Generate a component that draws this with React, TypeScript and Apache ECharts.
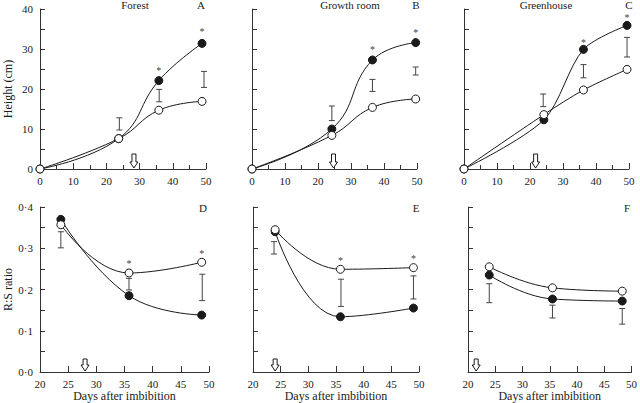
import React, { useEffect, useRef } from "react";
import * as echarts from "echarts";

// ---- Data ----
const panelTitles = ["Forest", "Growth room", "Greenhouse"];
const panelLetters = ["A", "B", "C", "D", "E", "F"];

// Height (cm) panels
const forestDays = [0, 23.7, 35.8, 48.8];
const forestFilled = [0, 7.6, 22.1, 31.4];
const forestOpen = [0, 7.6, 14.7, 16.9];
const forestErr = [[23.9, 9.75, 12.8], [35.9, 16.8, 19.9], [49.4, 20.4, 24.4]];
const forestStars = [[35.8, 24.7], [48.8, 34.3]];

const growthDays = [0, 24.2, 36.5, 49.6];
const growthFilled = [0, 10.0, 27.25, 31.6];
const growthOpen = [0, 8.4, 15.4, 17.5];
const growthErr = [[24.2, 12.1, 15.75], [36.5, 19.4, 22.4], [49.6, 23.5, 25.5]];
const growthStars = [[36.5, 30.0], [49.6, 34.2]];

const greenDays = [0, 24.2, 36.2, 49.4];
const greenFilled = [0, 12.3, 29.9, 35.9];
const greenOpen = [0, 13.6, 19.75, 24.9];
const greenErr = [[24.0, 15.6, 18.75], [36.2, 22.8, 26.1], [49.4, 28.0, 32.9]];
const greenStars = [[36.2, 31.7], [49.4, 38.0]];

// R:S ratio panels
const rsForestDays = [23.7, 35.8, 48.7];
const rsForestFilled = [0.37, 0.185, 0.138];
const rsForestOpen = [0.357, 0.24, 0.266];
const rsForestErr = [[23.7, 0.301, 0.34], [35.8, 0.199, 0.227], [48.8, 0.173, 0.237]];
const rsForestStars = [[35.8, 0.263], [48.7, 0.287]];

const rsGrowthDays = [24.0, 35.8, 49.0];
const rsGrowthFilled = [0.34, 0.134, 0.155];
const rsGrowthOpen = [0.345, 0.249, 0.253];
const rsGrowthErr = [[23.8, 0.286, 0.316], [35.9, 0.159, 0.225], [49.0, 0.177, 0.233]];
const rsGrowthStars = [[35.8, 0.271], [49.0, 0.274]];

const rsGreenDays = [23.9, 35.5, 48.3];
const rsGreenFilled = [0.235, 0.177, 0.172];
const rsGreenOpen = [0.255, 0.204, 0.196];
const rsGreenErr = [[23.9, 0.168, 0.214], [35.5, 0.131, 0.162], [48.3, 0.116, 0.154]];
const rsGreenStars: number[][] = [];

// transfer arrows (day)
const arrowDays = [28.3, 24.7, 21.7, 28.0, 24.0, 21.5];

const FONT = "Liberation Serif";
const INK = "#1a1a1a";
const AXIS = "#333";

export default function App() {
  const ref = useRef<HTMLDivElement>(null);

  useEffect(() => {
    document.body.style.margin = "0";
    const chart = echarts.init(ref.current!, null, { renderer: "svg" });

    const panels = [
      { days: forestDays, filled: forestFilled, open: forestOpen, err: forestErr, stars: forestStars, top: true },
      { days: growthDays, filled: growthFilled, open: growthOpen, err: growthErr, stars: growthStars, top: true },
      { days: greenDays, filled: greenFilled, open: greenOpen, err: greenErr, stars: greenStars, top: true },
      { days: rsForestDays, filled: rsForestFilled, open: rsForestOpen, err: rsForestErr, stars: rsForestStars, top: false },
      { days: rsGrowthDays, filled: rsGrowthFilled, open: rsGrowthOpen, err: rsGrowthErr, stars: rsGrowthStars, top: false },
      { days: rsGreenDays, filled: rsGreenFilled, open: rsGreenOpen, err: rsGreenErr, stars: rsGreenStars, top: false },
    ];

    const grids = [
      { left: 40, top: 9, width: 166, height: 160 },
      { left: 252, top: 9, width: 165, height: 160 },
      { left: 464, top: 9, width: 165, height: 160 },
      { left: 40, top: 207, width: 169, height: 165 },
      { left: 253, top: 207, width: 166, height: 165 },
      { left: 468, top: 207, width: 165, height: 165 },
    ];

    const xAxis: any[] = [];
    const yAxis: any[] = [];
    const series: any[] = [];

    panels.forEach((p, i) => {
      const isTop = p.top;
      xAxis.push({
        type: "value",
        gridIndex: i,
        min: isTop ? 0 : 20,
        max: 50,
        interval: isTop ? 10 : 5,
        axisLine: { show: true, lineStyle: { color: AXIS, width: 1 } },
        axisTick: { show: true, inside: true, length: 6, lineStyle: { color: AXIS } },
        minorTick: isTop
          ? { show: true, splitNumber: 2, length: 4, lineStyle: { color: AXIS } }
          : { show: false },
        splitLine: { show: false },
        axisLabel: { color: INK, fontFamily: FONT, fontSize: 11, margin: 6 },
        name: isTop ? "" : "Days after imbibition",
        nameLocation: "middle",
        nameGap: 17,
        nameTextStyle: { color: INK, fontFamily: FONT, fontSize: 12, fontWeight: "normal" },
      });
      const showY = i === 0 || i === 3;
      yAxis.push({
        type: "value",
        gridIndex: i,
        min: 0,
        max: isTop ? 40 : 0.4,
        interval: isTop ? 10 : 0.1,
        axisLine: { show: true, lineStyle: { color: AXIS, width: 1 } },
        axisTick: { show: true, inside: true, length: 5, lineStyle: { color: AXIS } },
        minorTick: { show: true, splitNumber: 2, length: 5, lineStyle: { color: AXIS } },
        splitLine: { show: false },
        axisLabel: {
          show: showY,
          color: INK,
          fontFamily: FONT,
          fontSize: 11,
          margin: 7,
          formatter: (v: number) => (isTop ? String(v) : v.toFixed(1).replace(".", "·")),
        },
        name: showY ? (isTop ? "Height (cm)" : "R:S ratio") : "",
        nameLocation: "middle",
        nameRotate: 90,
        nameGap: 26,
        nameTextStyle: { color: INK, fontFamily: FONT, fontSize: 12, fontWeight: "normal" },
      });

      const filledData = p.days.map((d, k) => [d, p.filled[k]]);
      const openData = p.days.map((d, k) => [d, p.open[k]]);
      const smooth = i === 2 ? 0.3 : 0.45;

      series.push({
        type: "line",
        xAxisIndex: i,
        yAxisIndex: i,
        data: filledData,
        smooth,
        symbol: "circle",
        symbolSize: 8,
        lineStyle: { color: INK, width: 1 },
        itemStyle: { color: INK, borderColor: INK, borderWidth: 1 },
        z: 3,
      });
      series.push({
        type: "line",
        xAxisIndex: i,
        yAxisIndex: i,
        data: openData,
        smooth,
        symbol: "circle",
        symbolSize: 8,
        lineStyle: { color: INK, width: 1 },
        itemStyle: { color: "#fff", borderColor: INK, borderWidth: 1 },
        z: 4,
      });
      // error bars
      series.push({
        type: "custom",
        xAxisIndex: i,
        yAxisIndex: i,
        data: p.err,
        z: 2,
        renderItem: (params: any, api: any) => {
          const x = api.value(0);
          const a = api.coord([x, api.value(1)]);
          const b = api.coord([x, api.value(2)]);
          const w = 3;
          const st = { stroke: "#444", lineWidth: 1 };
          return {
            type: "group",
            children: [
              { type: "line", shape: { x1: a[0], y1: a[1], x2: b[0], y2: b[1] }, style: st },
              { type: "line", shape: { x1: a[0] - w, y1: a[1], x2: a[0] + w, y2: a[1] }, style: st },
              { type: "line", shape: { x1: b[0] - w, y1: b[1], x2: b[0] + w, y2: b[1] }, style: st },
            ],
          };
        },
      });
      // asterisks
      if (p.stars.length) {
        series.push({
          type: "custom",
          xAxisIndex: i,
          yAxisIndex: i,
          data: p.stars,
          z: 5,
          renderItem: (params: any, api: any) => {
            const c = api.coord([api.value(0), api.value(1)]);
            return {
              type: "text",
              x: c[0],
              y: c[1],
              style: { text: "*", fill: "#444", font: `10px '${FONT}'`, align: "center", verticalAlign: "middle" },
            };
          },
        });
      }
      // transfer arrow
      const yMin = 0;
      series.push({
        type: "custom",
        xAxisIndex: i,
        yAxisIndex: i,
        data: [[arrowDays[i]]],
        z: 6,
        renderItem: (params: any, api: any) => {
          const c = api.coord([api.value(0), yMin]);
          const x = c[0];
          const y = c[1] - 1;
          const h = isTop ? 14 : 12;
          const neck = y - 6;
          return {
            type: "polygon",
            shape: {
              points: [
                [x - 2, y - h],
                [x + 2, y - h],
                [x + 2, neck],
                [x + 4, neck],
                [x, y],
                [x - 4, neck],
                [x - 2, neck],
              ],
            },
            style: { fill: "#fff", stroke: INK, lineWidth: 1 },
          };
        },
      });
    });

    const graphic: any[] = [];
    const titleX = [135, 350, 546];
    titleX.forEach((x, k) => {
      graphic.push({
        type: "text",
        x,
        y: 5,
        style: { text: panelTitles[k], fill: INK, font: `11px '${FONT}'`, align: "center", verticalAlign: "middle" },
      });
    });
    const letterPos = [
      [201, 5], [416, 5], [629, 5], [203, 208], [416, 208], [627, 208],
    ];
    letterPos.forEach((pos, k) => {
      graphic.push({
        type: "text",
        x: pos[0],
        y: pos[1],
        style: { text: panelLetters[k], fill: INK, font: `11px '${FONT}'`, align: "center", verticalAlign: "middle" },
      });
    });

    chart.setOption({
      animation: false,
      backgroundColor: "#fff",
      textStyle: { fontFamily: FONT },
      grid: grids,
      xAxis,
      yAxis,
      series,
      graphic,
    });

    return () => chart.dispose();
  }, []);

  return <div ref={ref} style={{ width: 640, height: 403 }} />;
}
